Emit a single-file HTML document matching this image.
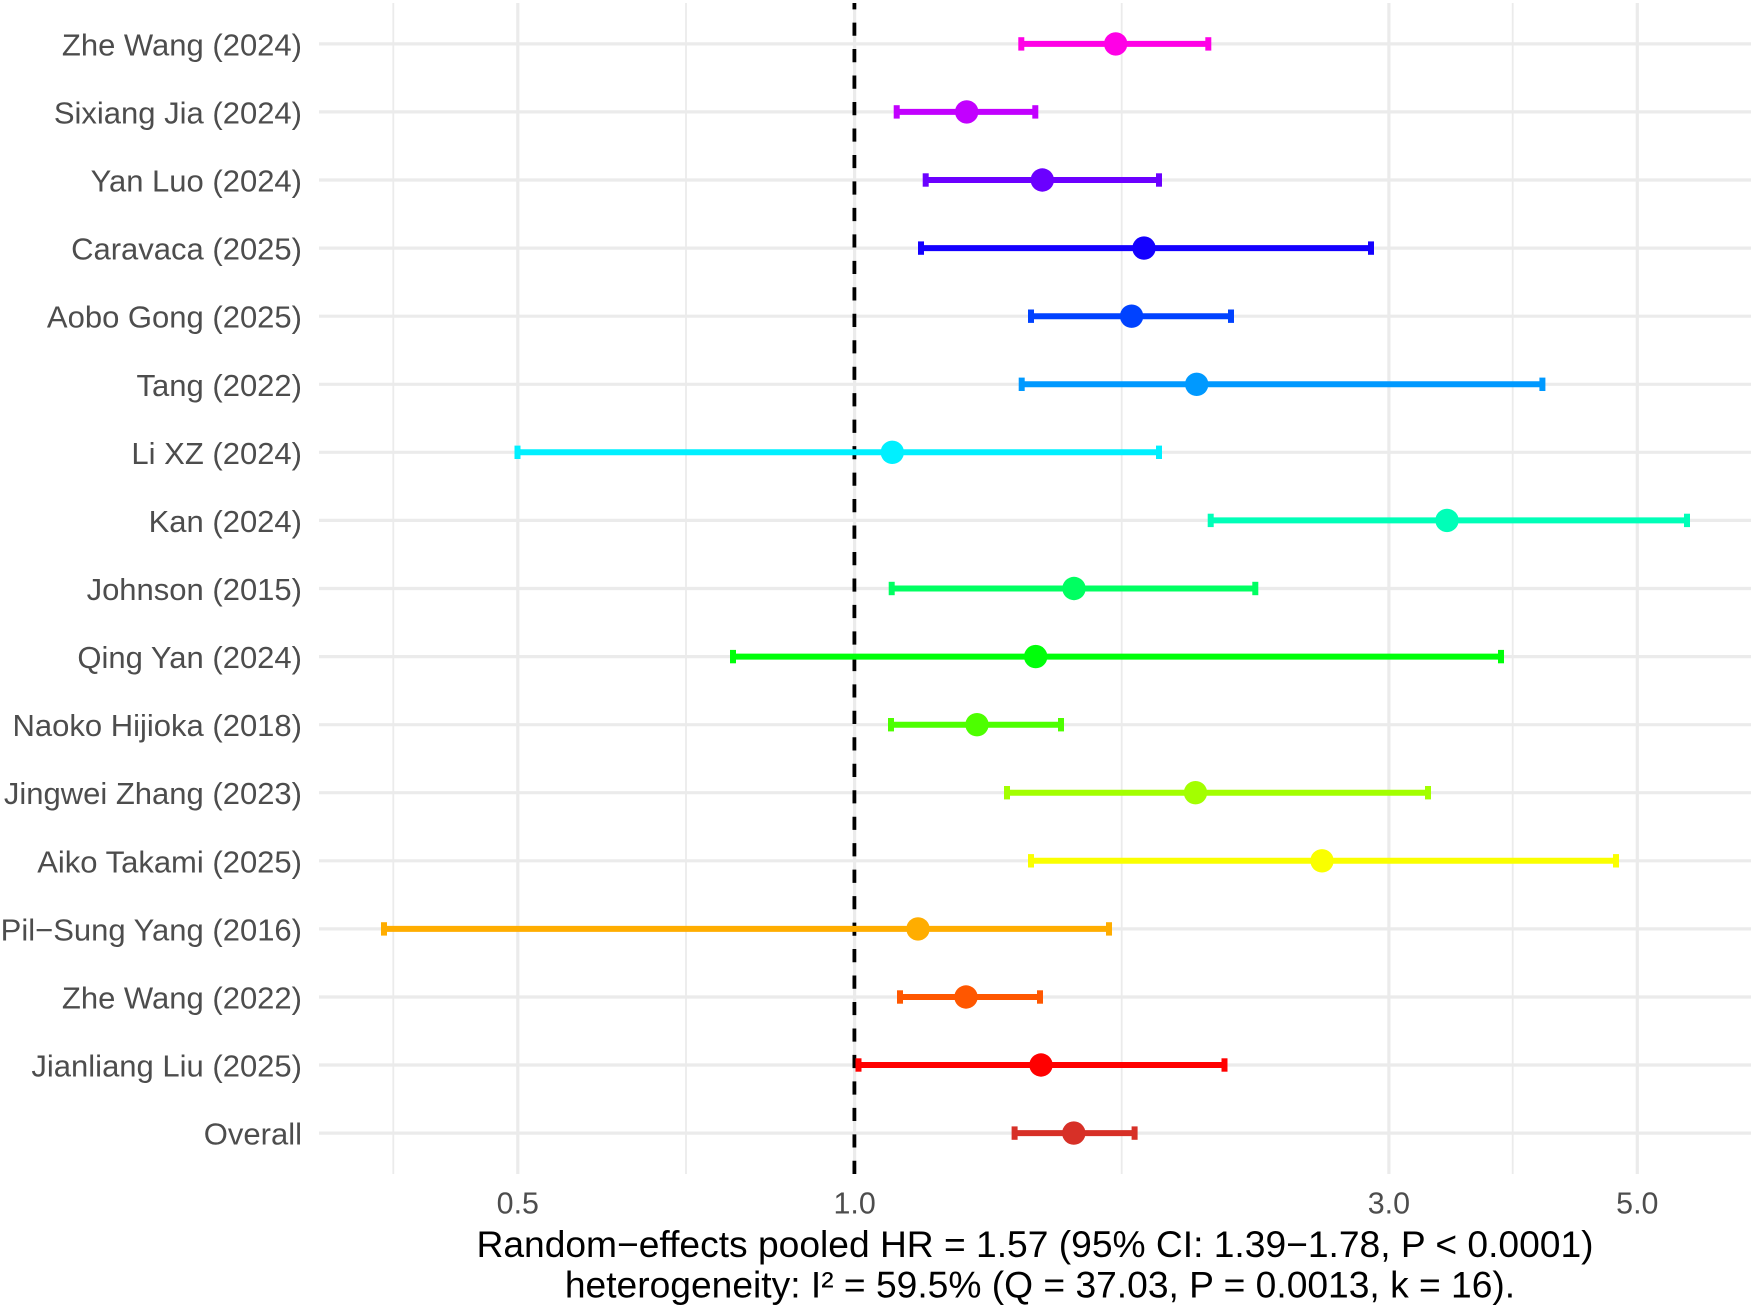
<!DOCTYPE html>
<html>
<head>
<meta charset="utf-8">
<style>
html,body{margin:0;padding:0;background:#fff;}
svg{display:block;}
text{font-family:"Liberation Sans","DejaVu Sans",sans-serif;}
</style>
</head>
<body>
<svg width="1755" height="1314" viewBox="0 0 1755 1314" xmlns="http://www.w3.org/2000/svg">
<rect width="1755" height="1314" fill="#fff"/>
<!-- minor vertical gridlines -->
<g stroke="#EBEBEB" stroke-width="1.8">
<line x1="393.3" y1="3" x2="393.3" y2="1174"/>
<line x1="686" y1="3" x2="686" y2="1174"/>
<line x1="1121.7" y1="3" x2="1121.7" y2="1174"/>
<line x1="1512.7" y1="3" x2="1512.7" y2="1174"/>
</g>
<!-- major gridlines -->
<g stroke="#EBEBEB" stroke-width="3.2">
<line x1="517.8" y1="3" x2="517.8" y2="1174"/>
<line x1="854.6" y1="3" x2="854.6" y2="1174"/>
<line x1="1388.9" y1="3" x2="1388.9" y2="1174"/>
<line x1="1637.3" y1="3" x2="1637.3" y2="1174"/>
<line x1="319" y1="43.9" x2="1751" y2="43.9"/>
<line x1="319" y1="111.9" x2="1751" y2="111.9"/>
<line x1="319" y1="180" x2="1751" y2="180"/>
<line x1="319" y1="248.1" x2="1751" y2="248.1"/>
<line x1="319" y1="316.2" x2="1751" y2="316.2"/>
<line x1="319" y1="384.3" x2="1751" y2="384.3"/>
<line x1="319" y1="452.3" x2="1751" y2="452.3"/>
<line x1="319" y1="520.4" x2="1751" y2="520.4"/>
<line x1="319" y1="588.5" x2="1751" y2="588.5"/>
<line x1="319" y1="656.6" x2="1751" y2="656.6"/>
<line x1="319" y1="724.7" x2="1751" y2="724.7"/>
<line x1="319" y1="792.7" x2="1751" y2="792.7"/>
<line x1="319" y1="860.8" x2="1751" y2="860.8"/>
<line x1="319" y1="928.9" x2="1751" y2="928.9"/>
<line x1="319" y1="997" x2="1751" y2="997"/>
<line x1="319" y1="1065" x2="1751" y2="1065"/>
<line x1="319" y1="1133.1" x2="1751" y2="1133.1"/>
</g>
<!-- reference line -->
<line x1="854.4" y1="1174" x2="854.4" y2="3" stroke="#000" stroke-width="3.8" stroke-dasharray="13.2 13.27"/>

<!-- error bars -->
<g stroke-width="6" fill="none">
<g stroke="#FF00E6"><line x1="1021.3" y1="43.9" x2="1208.3" y2="43.9"/><line x1="1021.3" y1="37.2" x2="1021.3" y2="50.6"/><line x1="1208.3" y1="37.2" x2="1208.3" y2="50.6"/></g>
<g stroke="#C200FF"><line x1="896.7" y1="111.9" x2="1035.3" y2="111.9"/><line x1="896.7" y1="105.2" x2="896.7" y2="118.6"/><line x1="1035.3" y1="105.2" x2="1035.3" y2="118.6"/></g>
<g stroke="#6B00FF"><line x1="925.7" y1="180" x2="1159" y2="180"/><line x1="925.7" y1="173.3" x2="925.7" y2="186.7"/><line x1="1159" y1="173.3" x2="1159" y2="186.7"/></g>
<g stroke="#1400FF"><line x1="921" y1="248.1" x2="1371" y2="248.1"/><line x1="921" y1="241.4" x2="921" y2="254.8"/><line x1="1371" y1="241.4" x2="1371" y2="254.8"/></g>
<g stroke="#0042FF"><line x1="1031" y1="316.2" x2="1231" y2="316.2"/><line x1="1031" y1="309.5" x2="1031" y2="322.9"/><line x1="1231" y1="309.5" x2="1231" y2="322.9"/></g>
<g stroke="#0099FF"><line x1="1021.7" y1="384.3" x2="1542.4" y2="384.3"/><line x1="1021.7" y1="377.6" x2="1021.7" y2="391"/><line x1="1542.4" y1="377.6" x2="1542.4" y2="391"/></g>
<g stroke="#00F0FF"><line x1="517.5" y1="452.3" x2="1159" y2="452.3"/><line x1="517.5" y1="445.6" x2="517.5" y2="459"/><line x1="1159" y1="445.6" x2="1159" y2="459"/></g>
<g stroke="#00FFB8"><line x1="1210.7" y1="520.4" x2="1687" y2="520.4"/><line x1="1210.7" y1="513.7" x2="1210.7" y2="527.1"/><line x1="1687" y1="513.7" x2="1687" y2="527.1"/></g>
<g stroke="#00FF61"><line x1="891.7" y1="588.5" x2="1255.3" y2="588.5"/><line x1="891.7" y1="581.8" x2="891.7" y2="595.2"/><line x1="1255.3" y1="581.8" x2="1255.3" y2="595.2"/></g>
<g stroke="#00FF0A"><line x1="733" y1="656.6" x2="1501" y2="656.6"/><line x1="733" y1="649.9" x2="733" y2="663.3"/><line x1="1501" y1="649.9" x2="1501" y2="663.3"/></g>
<g stroke="#4DFF00"><line x1="891" y1="724.7" x2="1061" y2="724.7"/><line x1="891" y1="718" x2="891" y2="731.4"/><line x1="1061" y1="718" x2="1061" y2="731.4"/></g>
<g stroke="#A3FF00"><line x1="1007" y1="792.7" x2="1428" y2="792.7"/><line x1="1007" y1="786" x2="1007" y2="799.4"/><line x1="1428" y1="786" x2="1428" y2="799.4"/></g>
<g stroke="#FAFF00"><line x1="1031" y1="860.8" x2="1616" y2="860.8"/><line x1="1031" y1="854.1" x2="1031" y2="867.5"/><line x1="1616" y1="854.1" x2="1616" y2="867.5"/></g>
<g stroke="#FFAD00"><line x1="384" y1="928.9" x2="1109" y2="928.9"/><line x1="384" y1="922.2" x2="384" y2="935.6"/><line x1="1109" y1="922.2" x2="1109" y2="935.6"/></g>
<g stroke="#FF5700"><line x1="900" y1="997" x2="1040" y2="997"/><line x1="900" y1="990.3" x2="900" y2="1003.7"/><line x1="1040" y1="990.3" x2="1040" y2="1003.7"/></g>
<g stroke="#FF0000"><line x1="858.5" y1="1065" x2="1224.5" y2="1065"/><line x1="858.5" y1="1058.3" x2="858.5" y2="1071.7"/><line x1="1224.5" y1="1058.3" x2="1224.5" y2="1071.7"/></g>
<g stroke="#D73027"><line x1="1014.6" y1="1133.1" x2="1134.6" y2="1133.1"/><line x1="1014.6" y1="1126.4" x2="1014.6" y2="1139.8"/><line x1="1134.6" y1="1126.4" x2="1134.6" y2="1139.8"/></g>
</g>

<!-- points -->
<g>
<circle cx="1115.7" cy="43.9" r="11.7" fill="#FF00E6"/>
<circle cx="966.7" cy="111.9" r="11.7" fill="#C200FF"/>
<circle cx="1042.3" cy="180" r="11.7" fill="#6B00FF"/>
<circle cx="1144" cy="248.1" r="11.7" fill="#1400FF"/>
<circle cx="1131.6" cy="316.2" r="11.7" fill="#0042FF"/>
<circle cx="1196.7" cy="384.3" r="11.7" fill="#0099FF"/>
<circle cx="892.3" cy="452.3" r="11.7" fill="#00F0FF"/>
<circle cx="1447" cy="520.4" r="11.7" fill="#00FFB8"/>
<circle cx="1074" cy="588.5" r="11.7" fill="#00FF61"/>
<circle cx="1035.7" cy="656.6" r="11.7" fill="#00FF0A"/>
<circle cx="977" cy="724.7" r="11.7" fill="#4DFF00"/>
<circle cx="1195.5" cy="792.7" r="11.7" fill="#A3FF00"/>
<circle cx="1322" cy="860.8" r="11.7" fill="#FAFF00"/>
<circle cx="918" cy="928.9" r="11.7" fill="#FFAD00"/>
<circle cx="966" cy="997" r="11.7" fill="#FF5700"/>
<circle cx="1041" cy="1065" r="11.7" fill="#FF0000"/>
<circle cx="1073.8" cy="1133.1" r="11.7" fill="#D73027"/>
</g>

<!-- y labels -->
<g font-size="31" fill="#4D4D4D" text-anchor="end">
<text x="302" y="55.4">Zhe Wang (2024)</text>
<text x="302" y="123.4">Sixiang Jia (2024)</text>
<text x="302" y="191.5">Yan Luo (2024)</text>
<text x="302" y="259.6">Caravaca (2025)</text>
<text x="302" y="327.7">Aobo Gong (2025)</text>
<text x="302" y="395.8">Tang (2022)</text>
<text x="302" y="463.8">Li XZ (2024)</text>
<text x="302" y="531.9">Kan (2024)</text>
<text x="302" y="600">Johnson (2015)</text>
<text x="302" y="668.1">Qing Yan (2024)</text>
<text x="302" y="736.2">Naoko Hijioka (2018)</text>
<text x="302" y="804.2">Jingwei Zhang (2023)</text>
<text x="302" y="872.3">Aiko Takami (2025)</text>
<text x="302" y="940.4">Pil−Sung Yang (2016)</text>
<text x="302" y="1008.5">Zhe Wang (2022)</text>
<text x="302" y="1076.5">Jianliang Liu (2025)</text>
<text x="302" y="1144.6">Overall</text>
</g>

<!-- x tick labels -->
<g font-size="30.4" fill="#4D4D4D" text-anchor="middle">
<text x="517.8" y="1213.5">0.5</text>
<text x="854.6" y="1213.5">1.0</text>
<text x="1388.9" y="1213.5">3.0</text>
<text x="1637.3" y="1213.5">5.0</text>
</g>

<!-- caption -->
<g font-size="37.2" fill="#000" text-anchor="middle">
<text x="1035" y="1257">Random−effects pooled HR = 1.57 (95% CI: 1.39−1.78, P &lt; 0.0001)</text>
<text x="1040" y="1297.5">heterogeneity: I² = 59.5% (Q = 37.03, P = 0.0013, k = 16).</text>
</g>
</svg>
</body>
</html>
